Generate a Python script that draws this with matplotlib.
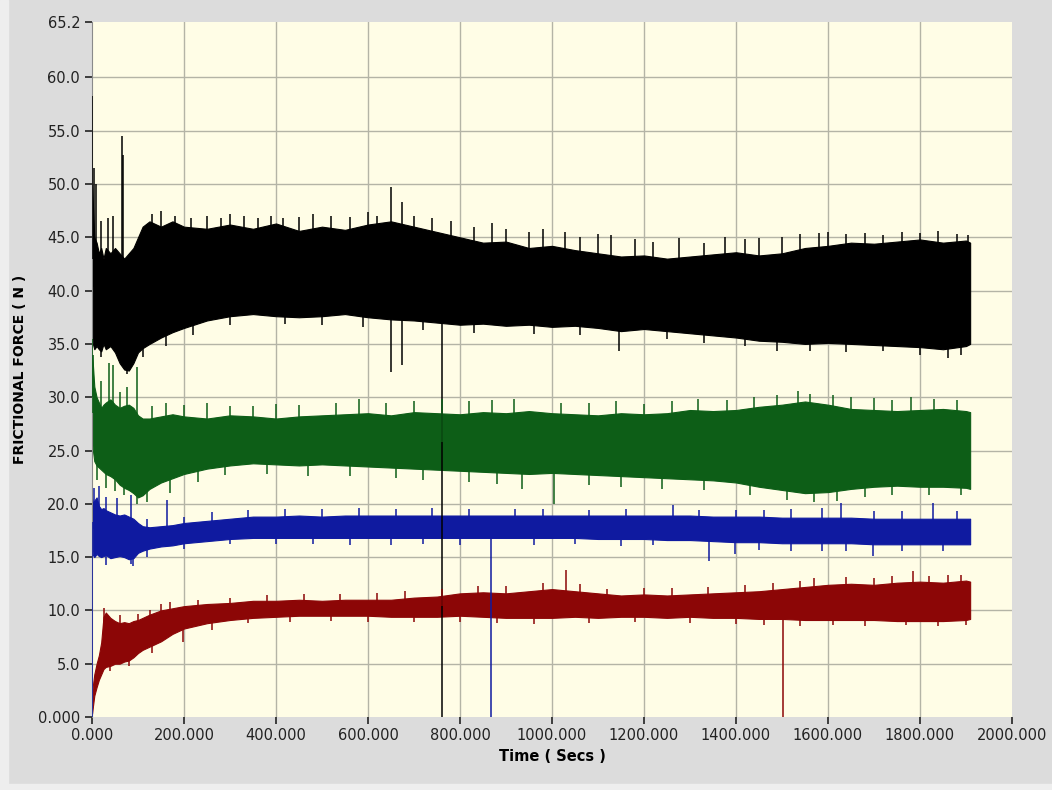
import numpy as np
import matplotlib.pyplot as plt
from matplotlib.patches import Rectangle

# time base (s) for the band envelopes
t = [0, 2, 5, 10, 15, 20, 25, 30, 40, 50, 60, 70, 80, 90, 100, 110, 125, 150, 175, 200,
     250, 300, 350, 400, 450, 500, 550, 600, 650, 700, 750, 800, 850, 900, 950, 1000,
     1050, 1100, 1150, 1200, 1250, 1300, 1350, 1400, 1450, 1500, 1550, 1600, 1650, 1700,
     1750, 1800, 1850, 1900, 1909]

# black trace
black_hi = [50, 48, 45, 44.5, 43.5, 44, 43, 44, 43.5, 44, 43.5, 43, 43.5, 44, 45, 46, 46.5, 46, 46.5, 46,
            45.8, 46.2, 45.8, 46.3, 45.6, 46, 45.7, 46.2, 46.5, 46, 45.5, 45, 44.5, 44.6, 44, 44.2,
            43.8, 43.5, 43.2, 43.3, 43, 43.2, 43.4, 43.6, 43.3, 43.5, 44, 44.2, 44.5, 44.4,
            44.6, 44.8, 44.5, 44.7, 44.5]
black_lo = [36, 35, 34.5, 34.8, 34.5, 34.3, 35, 34.5, 34.8, 34.2, 33.2, 32.6, 32.5, 33.2, 34.2, 34.6, 35, 35.6, 36.1, 36.5,
            37.2, 37.6, 37.8, 37.6, 37.5, 37.6, 37.8, 37.5, 37.3, 37.2, 37, 36.8, 36.9, 36.7, 36.8, 36.6,
            36.7, 36.5, 36.2, 36.4, 36.2, 36, 35.8, 35.6, 35.3, 35.2, 35, 35.1, 35, 34.9,
            34.8, 34.7, 34.5, 34.8, 35]
black_up_t = [0, 4, 8, 20, 35, 45, 65, 67, 130, 150, 180, 215, 250, 280, 300, 330, 360, 390, 415, 450,
              480, 520, 560, 600, 620, 649, 673, 700, 740, 780, 830, 870, 900, 950, 980, 1028, 1060,
              1100, 1129, 1180, 1220, 1277, 1330, 1375, 1420, 1450, 1500, 1540, 1580, 1600, 1640,
              1680, 1720, 1760, 1800, 1840, 1880, 1905]
black_up_v = [58.3, 51.5, 50, 46.5, 46.8, 47, 54.5, 52.7, 47.2, 47.5, 47, 46.8, 47, 46.8, 47.2, 47, 46.8, 47, 46.8, 46.9,
              47.2, 47, 46.9, 47.4, 47, 49.7, 48.3, 47, 46.8, 46.5, 46, 46.3, 45.8, 45.5, 45.8, 45.5, 45,
              45.3, 45.2, 44.8, 44.6, 44.9, 44.5, 45, 44.8, 44.9, 45, 45.3, 45.4, 45.5, 45.3,
              45.4, 45.2, 45.5, 45.4, 45.6, 45.3, 45.2]
black_dn_t = [20, 75, 110, 160, 220, 300, 420, 500, 590, 649, 673, 720, 760, 830, 960, 1060, 1146,
              1250, 1330, 1420, 1490, 1560, 1640, 1720, 1800, 1860, 1890]
black_dn_v = [33.8, 32.2, 33.8, 34.8, 35.8, 36.8, 36.9, 36.8, 36.6, 32.4, 33, 36.3, 0, 36, 35.9, 35.8, 34.3,
              35.5, 35.1, 34.8, 34.3, 34.3, 34.2, 34.3, 34, 33.7, 34]

# green trace
green_hi = [34, 33, 31, 30, 29.5, 29, 29.3, 29.5, 29.8, 29.3, 29, 29.2, 29.3, 29, 28.3, 28, 28, 28.2, 28.4, 28.2,
            28, 28.3, 28.2, 28, 28.2, 28.3, 28.4, 28.5, 28.3, 28.6, 28.5, 28.4, 28.6, 28.5, 28.7, 28.5,
            28.4, 28.3, 28.5, 28.4, 28.5, 28.8, 28.7, 28.8, 29.1, 29.3, 29.6, 29.3, 28.9, 28.8,
            28.7, 28.8, 28.9, 28.7, 28.6]
green_lo = [26, 25, 24, 23.6, 23.4, 23.2, 23, 22.8, 22.6, 22.3, 21.8, 21.5, 21.3, 21, 20.6, 20.8, 21.4, 22, 22.4, 22.8,
            23.3, 23.6, 23.8, 23.7, 23.6, 23.7, 23.6, 23.5, 23.4, 23.3, 23.2, 23.1, 23, 22.9, 22.8, 22.9,
            22.8, 22.7, 22.6, 22.5, 22.4, 22.3, 22.2, 22, 21.6, 21.3, 21, 21.1, 21.4, 21.6,
            21.7, 21.6, 21.6, 21.5, 21.4]
green_up_t = [0, 3, 20, 38, 45, 60, 75, 97, 130, 160, 200, 250, 300, 350, 400, 450, 530, 580, 640, 700,
              760, 820, 870, 917, 1020, 1080, 1140, 1200, 1260, 1317, 1380, 1440, 1490, 1534, 1560,
              1610, 1650, 1700, 1740, 1780, 1830, 1880]
green_up_v = [35.5, 34, 31.5, 33.2, 33, 30.5, 31, 32.8, 29.2, 29.5, 29.3, 29.5, 29.2, 29.2, 29.4, 29.3, 29.5, 29.8, 29.5, 29.6,
              29.8, 29.6, 29.7, 29.8, 29.5, 29.5, 29.6, 29.4, 29.6, 29.8, 29.7, 30, 30.2, 30.6, 30.3,
              30.2, 30, 29.9, 29.7, 30, 29.8, 29.7]
green_dn_t = [10, 30, 50, 70, 98, 120, 170, 230, 290, 380, 470, 560, 660, 720, 820, 880, 935, 1005,
              1080, 1150, 1240, 1330, 1430, 1510, 1570, 1620, 1680, 1740, 1820, 1890]
green_dn_v = [22.2, 21.5, 21.2, 20.8, 20, 20.2, 21, 22, 22.7, 22.8, 22.6, 22.6, 22.4, 22.2, 22, 21.9, 21.4, 20,
              21.8, 21.6, 21.4, 21.3, 20.8, 20.4, 20.2, 20.3, 20.6, 20.8, 20.8, 20.8]

# blue trace
blue_hi = [20.5, 20, 20.3, 20.6, 19.8, 19.5, 19.6, 19.4, 19.2, 19, 18.9, 19, 18.8, 18.6, 18.2, 17.9, 17.8, 17.9, 18, 18.2,
           18.4, 18.6, 18.8, 18.8, 18.9, 18.8, 18.9, 18.9, 18.9, 18.9, 18.9, 18.9, 18.9, 18.9, 18.9, 18.9,
           18.9, 18.9, 18.9, 18.9, 18.9, 18.9, 18.8, 18.8, 18.8, 18.7, 18.7, 18.7, 18.7, 18.6,
           18.6, 18.6, 18.6, 18.6, 18.6]
blue_lo = [16, 15.2, 15, 15.3, 15.1, 15, 15.1, 15.2, 14.9, 15, 15.1, 15, 14.8, 14.9, 15.4, 15.6, 15.8, 16, 16.1, 16.3,
           16.5, 16.7, 16.8, 16.8, 16.8, 16.8, 16.8, 16.8, 16.8, 16.8, 16.8, 16.8, 16.8, 16.8, 16.8, 16.8,
           16.8, 16.7, 16.7, 16.7, 16.6, 16.6, 16.5, 16.4, 16.4, 16.3, 16.3, 16.3, 16.3, 16.2,
           16.2, 16.2, 16.2, 16.2, 16.2]
blue_up_t = [5, 15, 30, 55, 85, 120, 162, 200, 260, 340, 420, 500, 580, 660, 740, 820, 920, 980,
             1080, 1160, 1263, 1320, 1400, 1460, 1520, 1588, 1628, 1700, 1760, 1829, 1880]
blue_up_v = [21.5, 21.7, 20.6, 20.5, 20.8, 18.6, 20.4, 18.8, 19.2, 19.4, 19.5, 19.5, 19.6, 19.5, 19.6, 19.5, 19.5, 19.5,
             19.4, 19.5, 19.9, 19.4, 19.4, 19.4, 19.5, 19.6, 20.1, 19.3, 19.3, 20.1, 19.3]
blue_dn_t = [0, 30, 85, 90, 120, 200, 300, 400, 480, 560, 650, 720, 800, 868, 960, 1050, 1150, 1220,
             1342, 1397, 1450, 1520, 1588, 1640, 1697, 1760, 1850]
blue_dn_v = [0, 14.3, 14.4, 14.2, 15, 15.8, 16.2, 16.2, 16.2, 16.1, 16.1, 16.2, 16.1, 0, 16.1, 16.2, 16, 16.1,
             14.6, 15.3, 15.7, 15.6, 15.6, 15.6, 15.1, 15.6, 15.6]

# red trace
red_hi = [2, 3, 4, 5, 5.8, 7, 9.4, 9.8, 9.3, 9, 8.8, 8.9, 8.8, 9, 9.1, 9.3, 9.6, 10, 10.2, 10.4,
          10.6, 10.7, 10.9, 10.9, 11, 10.9, 11, 11, 11, 11.2, 11.3, 11.6, 11.7, 11.6, 11.8, 12,
          11.8, 11.6, 11.4, 11.5, 11.4, 11.5, 11.6, 11.7, 11.8, 12, 12.2, 12.4, 12.5, 12.4,
          12.6, 12.7, 12.6, 12.8, 12.7]
red_lo = [0.3, 1, 2, 2.8, 3.5, 4, 4.5, 4.7, 4.8, 5, 5, 5.2, 5.3, 5.6, 6, 6.3, 6.6, 7.1, 7.8, 8.3,
          8.8, 9.1, 9.3, 9.4, 9.5, 9.5, 9.5, 9.5, 9.4, 9.4, 9.4, 9.5, 9.4, 9.3, 9.3, 9.3,
          9.4, 9.3, 9.4, 9.4, 9.3, 9.4, 9.3, 9.3, 9.2, 9.2, 9.1, 9.1, 9.1, 9.1,
          9, 9, 9, 9.1, 9.2]
red_up_t = [26, 60, 100, 125, 150, 170, 230, 300, 380, 460, 540, 620, 680, 760, 840, 900, 980, 1030,
            1060, 1120, 1200, 1260, 1340, 1420, 1480, 1540, 1570, 1640, 1700, 1740, 1785, 1820, 1860, 1890]
red_up_v = [10.2, 9.6, 9.7, 10, 10.6, 10.8, 11, 11.2, 11.4, 11.5, 11.5, 11.6, 11.8, 12, 12.3, 12.3, 12.6, 13.8,
            12.5, 12, 12.1, 12.1, 12.2, 12.4, 12.6, 12.8, 13, 13.1, 13, 13.2, 13.7, 13.2, 13.3, 13.3]
red_dn_t = [40, 80, 130, 197, 260, 340, 430, 520, 600, 700, 800, 880, 960, 1080, 1180, 1300, 1400,
            1460, 1503, 1540, 1610, 1680, 1770, 1840, 1900]
red_dn_v = [4.3, 4.8, 6, 7, 8.2, 8.8, 8.9, 9, 8.9, 8.9, 8.9, 8.8, 8.7, 8.8, 8.9, 8.8, 8.7,
            8.6, 0, 8.5, 8.6, 8.5, 8.6, 8.5, 8.6]

x_ticks = [0, 200, 400, 600, 800, 1000, 1200, 1400, 1600, 1800, 2000]
x_labels = ['0.000', '200.000', '400.000', '600.000', '800.000', '1000.000', '1200.000',
            '1400.000', '1600.000', '1800.000', '2000.000']
y_ticks = [0, 5, 10, 15, 20, 25, 30, 35, 40, 45, 50, 55, 60, 65.2]
y_labels = ['0.000', '5.0', '10.0', '15.0', '20.0', '25.0', '30.0', '35.0', '40.0',
            '45.0', '50.0', '55.0', '60.0', '65.2']

traces = [
    ('#000000', black_hi, black_lo, black_up_t, black_up_v, black_dn_t, black_dn_v),
    ('#0d5e17', green_hi, green_lo, green_up_t, green_up_v, green_dn_t, green_dn_v),
    ('#0f1aa0', blue_hi, blue_lo, blue_up_t, blue_up_v, blue_dn_t, blue_dn_v),
    ('#8c0606', red_hi, red_lo, red_up_t, red_up_v, red_dn_t, red_dn_v),
]

fig = plt.figure(figsize=(10.52, 7.90), dpi=100, facecolor='#dcdcdc')
# lighter frame strips of the panel
fig.patches.append(Rectangle((0, 0), 8/1052, 1, transform=fig.transFigure,
                             color='#eeeeee', zorder=-1))
fig.patches.append(Rectangle((0, 0), 1, 6/790, transform=fig.transFigure,
                             color='#eeeeee', zorder=-1))

ax = fig.add_axes([92/1052, 1 - 717/790, 920/1052, 695/790])
ax.set_facecolor('#fffde6')

for x in x_ticks[1:-1]:
    ax.axvline(x, color='#b4b4a6', lw=1, zorder=0)
for y in y_ticks[1:-1]:
    ax.axhline(y, color='#b4b4a6', lw=1, zorder=0)

tt = np.array(t)
for color, hi, lo, ut, uv, dt, dv in traces:
    hi = np.array(hi)
    lo = np.array(lo)
    ax.fill_between(tt, lo, hi, color=color, lw=0.8, edgecolor=color, zorder=2)
    mid = (hi + lo) / 2
    ax.vlines(ut, np.interp(ut, tt, mid), uv, color=color, lw=1.1, zorder=3)
    ax.vlines(dt, np.interp(dt, tt, mid), dv, color=color, lw=1.1, zorder=3)

ax.set_xlim(0, 2000)
ax.set_ylim(0, 65.2)
ax.set_xticks(x_ticks)
ax.set_xticklabels(x_labels)
ax.set_yticks(y_ticks)
ax.set_yticklabels(y_labels)
ax.tick_params(axis='both', labelsize=10.5, colors='#222222', length=5, width=1.2,
               direction='out')
ax.tick_params(axis='x', pad=3)
for side in ['top', 'right', 'bottom']:
    ax.spines[side].set_visible(False)
ax.spines['left'].set_color('#8a8a8a')

ax.set_xlabel('Time ( Secs )', fontsize=10.5, fontweight='bold', labelpad=4)
ax.set_ylabel('FRICTIONAL FORCE ( N )', fontsize=10, fontweight='bold', labelpad=8)

plt.savefig('out.png', dpi=100, facecolor=fig.get_facecolor())
